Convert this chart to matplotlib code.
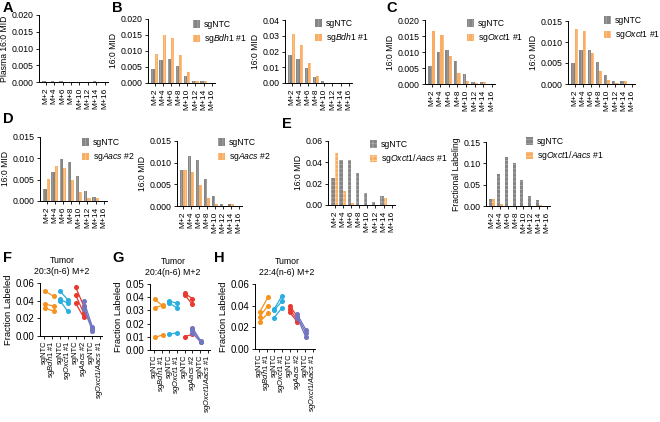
import matplotlib.pyplot as plt
import numpy as np
from matplotlib.patches import Patch
from matplotlib.ticker import FormatStrFormatter

plt.rcParams['font.family'] = ['Liberation Sans', 'DejaVu Sans']
plt.rcParams['mathtext.fontset'] = 'custom'
plt.rcParams['mathtext.rm'] = 'Liberation Sans'
plt.rcParams['mathtext.it'] = 'Liberation Sans:italic'
plt.rcParams['hatch.linewidth'] = 0.5

isotopes = ['M+2', 'M+4', 'M+6', 'M+8', 'M+10', 'M+12', 'M+14', 'M+16']

# A - plasma
plasma = [0.0003, 0.0004, 0.0003, 0.0001, 0.0, 0.0, 0.0003, 0.0]
# B - Bdh1
b1_ntc = [0.0044, 0.0072, 0.0076, 0.0052, 0.0022, 0.0005, 0.0005, 0.0]
b1_ko = [0.0092, 0.0150, 0.0142, 0.0086, 0.0033, 0.0007, 0.0005, 0.0]
b2_ntc = [0.0175, 0.0155, 0.0098, 0.0040, 0.0010, 0.0002, 0.0002, 0.0]
b2_ko = [0.0310, 0.0240, 0.0128, 0.0045, 0.0003, 0.0001, 0.0001, 0.0]
# C - Oxct1
c1_ntc = [0.0056, 0.0100, 0.0105, 0.0071, 0.0030, 0.0007, 0.0006, 0.0]
c1_ko = [0.0166, 0.0152, 0.0087, 0.0034, 0.0010, 0.0002, 0.0006, 0.0]
c2_ntc = [0.0050, 0.0080, 0.0082, 0.0052, 0.0022, 0.0006, 0.0006, 0.0]
c2_ko = [0.0131, 0.0126, 0.0075, 0.0032, 0.0010, 0.0002, 0.0006, 0.0]
# D - Aacs
d1_ntc = [0.0029, 0.0068, 0.0098, 0.0091, 0.0058, 0.0024, 0.0010, 0.0]
d1_ko = [0.0052, 0.0082, 0.0077, 0.0049, 0.0021, 0.0006, 0.0006, 0.0]
d2_ntc = [0.0082, 0.0116, 0.0107, 0.0062, 0.0023, 0.0004, 0.0005, 0.0]
d2_ko = [0.0082, 0.0079, 0.0048, 0.0019, 0.0004, 0.0001, 0.0005, 0.0]
# E - Oxct1/Aacs
e1_ntc = [0.025, 0.042, 0.042, 0.030, 0.011, 0.003, 0.008, 0.0]
e1_ko = [0.049, 0.013, 0.002, 0.0, 0.0, 0.0, 0.007, 0.0]
e2_ntc = [0.016, 0.076, 0.114, 0.101, 0.060, 0.023, 0.013, 0.0]
e2_ko = [0.016, 0.005, 0.0, 0.0, 0.0, 0.0, 0.003, 0.0]

# F-H tumor paired data (NTC -> KO for each mouse)
groups = ['sgNTC', r'sg$\it{Bdh1}$ #1', 'sgNTC', r'sg$\it{Oxct1}$ #1',
          'sgNTC', r'sg$\it{Aacs}$ #2', 'sgNTC', r'sg$\it{Oxct1/Aacs}$ #1']
f_bdh1 = ([0.051, 0.036, 0.032], [0.045, 0.034, 0.028])
f_oxct1 = ([0.051, 0.042, 0.040], [0.041, 0.037, 0.028])
f_aacs = ([0.055, 0.046, 0.037], [0.034, 0.026, 0.021])
f_dko = ([0.040, 0.034, 0.031], [0.010, 0.008, 0.006])
g_bdh1 = ([0.0385, 0.032, 0.0095], [0.0333, 0.034, 0.0115])
g_oxct1 = ([0.037, 0.0355, 0.012], [0.0355, 0.032, 0.013])
g_aacs = ([0.043, 0.042, 0.0102], [0.039, 0.0345, 0.0118])
g_dko = ([0.017, 0.015, 0.013], [0.0068, 0.0062, 0.0058])
h_bdh1 = ([0.034, 0.030, 0.025], [0.048, 0.040, 0.033])
h_oxct1 = ([0.037, 0.036, 0.029], [0.049, 0.044, 0.038])
h_aacs = ([0.040, 0.037, 0.034], [0.030, 0.027, 0.025])
h_dko = ([0.032, 0.030, 0.029], [0.018, 0.015, 0.011])

GRAY, GRAY_H = '#858585', '#b0b0b0'
ORANGE, ORANGE_H = '#f9ad62', '#fcd0a0'
pair_colors = ['#f7931e', '#29aee0', '#e8392f', '#7275c0']

W, H = 660, 422
fig = plt.figure(figsize=(6.6, 4.22), dpi=100)


def add_ax(l, t, r, b):
    ax = fig.add_axes([l / W, 1 - b / H, (r - l) / W, (b - t) / H])
    ax.spines[['top', 'right']].set_visible(False)
    ax.spines[['left', 'bottom']].set_linewidth(0.7)
    ax.tick_params(length=2.5, width=0.6, pad=1.5, labelsize=6.3)
    return ax


def bar_panel(rect, ntc, ko, ymax, step, fmt, ylabel, hatch='||||'):
    ax = add_ax(*rect)
    x = np.arange(len(isotopes))
    ax.bar(x - 0.2, ntc, 0.4, color=GRAY, edgecolor=GRAY_H, hatch=hatch, linewidth=0)
    if ko is not None:
        ax.bar(x + 0.2, ko, 0.4, color=ORANGE, edgecolor=ORANGE_H, hatch=hatch, linewidth=0)
    ax.set_xlim(-0.8, 7.4)
    ax.set_ylim(0, ymax)
    ax.set_yticks(np.arange(0, ymax + step / 2, step))
    ax.yaxis.set_major_formatter(FormatStrFormatter(fmt))
    ax.set_xticks(x, isotopes, rotation=90, fontsize=6)
    ax.set_ylabel(ylabel, fontsize=6.2, labelpad=2)
    return ax


def legend(ax, label, px, py, hatch='||||'):
    handles = [Patch(facecolor=GRAY, edgecolor=GRAY_H, hatch=hatch, linewidth=0, label='sgNTC'),
               Patch(facecolor=ORANGE, edgecolor=ORANGE_H, hatch=hatch, linewidth=0, label=label)]
    ax.legend(handles=handles, loc='upper left', bbox_to_anchor=(px / W, 1 - py / H),
              bbox_transform=fig.transFigure, frameon=False, fontsize=6.2,
              handlelength=0.8, handleheight=1.0, handletextpad=0.5,
              labelspacing=0.4, borderpad=0, borderaxespad=0)


def paired_panel(rect, data, ymax, step, title, tx):
    ax = add_ax(*rect)
    xpos = [(0.1, 1.2), (2.0, 3.0), (4.0, 5.0), (5.0, 6.1)]
    for (ntc, ko), (x0, x1), c in zip(data, xpos, pair_colors):
        for a, b in zip(ntc, ko):
            ax.plot([x0, x1], [a, b], color=c, lw=0.9, marker='o', ms=2.6)
    ax.set_xlim(-0.5, 7.3)
    ax.set_ylim(0, ymax)
    ax.set_yticks(np.arange(0, ymax + step / 2, step))
    ax.yaxis.set_major_formatter(FormatStrFormatter('%.2f'))
    ax.tick_params(axis='y', labelsize=7)
    ax.tick_params(axis='x', pad=1)
    ax.set_xticks(np.arange(8), groups, rotation=90, fontsize=5.4)
    ax.set_ylabel('Fraction Labeled', fontsize=6.8, labelpad=2)
    fig.text(tx / W, 1 - (rect[1] - 7) / H, title, ha='center', va='bottom',
             fontsize=6.3, linespacing=1.35)
    return ax


# A
ax = bar_panel((39, 15, 108, 82), plasma, None, 0.020, 0.005, '%.3f', 'Plasma 16:0 MID')
# B
ax = bar_panel((148, 19, 215, 83), b1_ntc, b1_ko, 0.020, 0.005, '%.3f', '16:0 MID')
legend(ax, r'sg$\it{Bdh1}$ #1', 193, 20)
ax = bar_panel((285, 20, 352, 83), b2_ntc, b2_ko, 0.04, 0.01, '%.2f', '16:0 MID')
legend(ax, r'sg$\it{Bdh1}$ #1', 315, 19)
# C
ax = bar_panel((425, 20, 495, 84), c1_ntc, c1_ko, 0.020, 0.005, '%.3f', '16:0 MID')
legend(ax, r'sg$\it{Oxct1}$ #1', 467, 19)
ax = bar_panel((568, 21, 635, 84), c2_ntc, c2_ko, 0.015, 0.005, '%.3f', '16:0 MID')
legend(ax, r'sg$\it{Oxct1}$ #1', 604, 16)
# D
ax = bar_panel((40, 137, 107, 201), d1_ntc, d1_ko, 0.015, 0.005, '%.3f', '16:0 MID')
legend(ax, r'sg$\it{Aacs}$ #2', 82, 138)
ax = bar_panel((177, 141, 242, 206), d2_ntc, d2_ko, 0.015, 0.005, '%.3f', '16:0 MID')
legend(ax, r'sg$\it{Aacs}$ #2', 218, 138)
# E
ax = bar_panel((328, 141, 395, 205), e1_ntc, e1_ko, 0.06, 0.02, '%.2f', '16:0 MID', hatch='++++')
legend(ax, r'sg$\it{Oxct1/Aacs}$ #1', 370, 140, hatch='++++')
ax = bar_panel((486, 142, 550, 206), e2_ntc, e2_ko, 0.15, 0.05, '%.2f', 'Fractional Labeling', hatch='----')
legend(ax, r'sg$\it{Oxct1/Aacs}$ #1', 526, 137, hatch='----')

# F-H
paired_panel((40, 283, 102, 336), [f_bdh1, f_oxct1, f_aacs, f_dko], 0.06, 0.02,
             'Tumor\n20:3(n-6) M+2', 62)
paired_panel((150, 284, 210, 350), [g_bdh1, g_oxct1, g_aacs, g_dko], 0.05, 0.01,
             'Tumor\n20:4(n-6) M+2', 173)
paired_panel((255, 284, 315, 349), [h_bdh1, h_oxct1, h_aacs, h_dko], 0.06, 0.02,
             'Tumor\n22:4(n-6) M+2', 287)

# panel letters
for letter, px, py in [('A', 3, 1), ('B', 112, 1), ('C', 386, 1), ('D', 3, 112),
                       ('E', 282, 117), ('F', 3, 251), ('G', 112, 251), ('H', 214, 251)]:
    fig.text(px / W, 1 - py / H, letter, fontsize=10.5, fontweight='bold', va='top', ha='left')

fig.savefig('out.png', dpi=100)
